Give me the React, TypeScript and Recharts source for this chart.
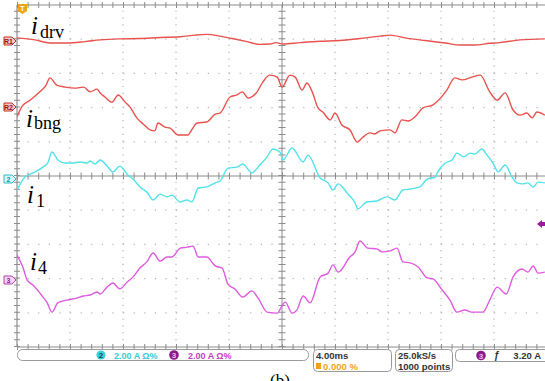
import React from 'react';
import { LineChart, Line, XAxis, YAxis, ReferenceLine } from 'recharts';

// time in divisions (0..10), value in divisions (-5..5)
const iDrv = [
  { t: 0, v: 4.04 }, { t: 0.34, v: 3.98 }, { t: 0.62, v: 3.89 }, { t: 0.94, v: 3.89 },
  { t: 1.28, v: 3.93 }, { t: 1.57, v: 3.98 }, { t: 1.94, v: 4.01 }, { t: 2.32, v: 4.02 },
  { t: 2.7, v: 4.05 }, { t: 3.08, v: 4.07 }, { t: 3.36, v: 4.12 }, { t: 3.58, v: 4.14 },
  { t: 3.83, v: 4.09 }, { t: 4.06, v: 4.02 }, { t: 4.34, v: 3.93 }, { t: 4.58, v: 3.85 },
  { t: 4.77, v: 3.86 }, { t: 4.89, v: 3.9 }, { t: 5.02, v: 3.86 }, { t: 5.34, v: 3.9 },
  { t: 5.72, v: 3.94 }, { t: 6.09, v: 3.96 }, { t: 6.47, v: 4.02 }, { t: 6.85, v: 4.09 },
  { t: 7.04, v: 4.12 }, { t: 7.32, v: 4.04 }, { t: 7.7, v: 3.96 }, { t: 8.08, v: 3.89 },
  { t: 8.36, v: 3.83 }, { t: 8.64, v: 3.83 }, { t: 8.92, v: 3.88 }, { t: 9.11, v: 3.9 },
  { t: 9.49, v: 3.98 }, { t: 9.96, v: 4.01 },
];

const iBng = [
  { t: 0, v: 1.73 }, { t: 0.09, v: 2.02 }, { t: 0.25, v: 2.22 }, { t: 0.43, v: 2.46 },
  { t: 0.55, v: 2.66 }, { t: 0.62, v: 2.87 }, { t: 0.75, v: 2.66 }, { t: 0.91, v: 2.6 },
  { t: 1.09, v: 2.57 }, { t: 1.26, v: 2.6 }, { t: 1.38, v: 2.46 }, { t: 1.51, v: 2.54 },
  { t: 1.57, v: 2.43 }, { t: 1.66, v: 2.31 }, { t: 1.79, v: 2.16 }, { t: 1.91, v: 2.37 },
  { t: 2.04, v: 2.16 }, { t: 2.13, v: 2.02 }, { t: 2.26, v: 1.7 }, { t: 2.38, v: 1.52 },
  { t: 2.51, v: 1.35 }, { t: 2.6, v: 1.32 }, { t: 2.66, v: 1.55 }, { t: 2.79, v: 1.43 },
  { t: 2.89, v: 1.4 }, { t: 3.04, v: 1.2 }, { t: 3.23, v: 1.2 }, { t: 3.26, v: 1.26 },
  { t: 3.4, v: 1.55 }, { t: 3.58, v: 1.58 }, { t: 3.74, v: 1.81 }, { t: 3.83, v: 1.84 },
  { t: 4.02, v: 2.31 }, { t: 4.15, v: 2.37 }, { t: 4.25, v: 2.46 }, { t: 4.36, v: 2.28 },
  { t: 4.53, v: 2.46 }, { t: 4.64, v: 2.75 }, { t: 4.77, v: 2.95 }, { t: 4.91, v: 2.89 },
  { t: 5.0, v: 2.6 }, { t: 5.15, v: 2.95 }, { t: 5.25, v: 2.89 }, { t: 5.38, v: 2.51 },
  { t: 5.47, v: 2.72 }, { t: 5.57, v: 2.46 }, { t: 5.68, v: 1.99 }, { t: 5.77, v: 1.87 },
  { t: 5.91, v: 1.64 }, { t: 6.0, v: 1.84 }, { t: 6.13, v: 1.49 }, { t: 6.28, v: 1.35 },
  { t: 6.42, v: 0.99 }, { t: 6.51, v: 1.11 }, { t: 6.66, v: 1.26 }, { t: 6.75, v: 1.23 },
  { t: 6.85, v: 1.32 }, { t: 7.04, v: 1.35 }, { t: 7.13, v: 1.26 }, { t: 7.26, v: 1.64 },
  { t: 7.38, v: 1.61 }, { t: 7.51, v: 1.73 }, { t: 7.66, v: 1.99 }, { t: 7.85, v: 2.08 },
  { t: 8.11, v: 2.51 }, { t: 8.26, v: 2.87 }, { t: 8.4, v: 2.81 }, { t: 8.58, v: 2.89 },
  { t: 8.74, v: 2.95 }, { t: 8.92, v: 2.46 }, { t: 9.06, v: 2.22 }, { t: 9.21, v: 2.43 },
  { t: 9.36, v: 1.93 }, { t: 9.49, v: 1.78 }, { t: 9.62, v: 1.84 }, { t: 9.72, v: 1.7 },
  { t: 9.81, v: 1.87 }, { t: 9.96, v: 1.78 },
];

const i1 = [
  { t: 0, v: -0.41 }, { t: 0.15, v: -0.03 }, { t: 0.3, v: 0.09 }, { t: 0.49, v: 0.26 },
  { t: 0.58, v: 0.38 }, { t: 0.66, v: 0.7 }, { t: 0.77, v: 0.47 }, { t: 0.91, v: 0.38 },
  { t: 1.04, v: 0.38 }, { t: 1.19, v: 0.41 }, { t: 1.32, v: 0.38 }, { t: 1.38, v: 0.44 },
  { t: 1.47, v: 0.35 }, { t: 1.57, v: 0.47 }, { t: 1.7, v: 0.29 }, { t: 1.81, v: 0.12 },
  { t: 1.94, v: 0.29 }, { t: 2.09, v: 0.03 }, { t: 2.19, v: -0.09 }, { t: 2.32, v: -0.32 },
  { t: 2.45, v: -0.47 }, { t: 2.57, v: -0.7 }, { t: 2.7, v: -0.53 }, { t: 2.83, v: -0.61 },
  { t: 2.92, v: -0.56 }, { t: 3.08, v: -0.76 }, { t: 3.21, v: -0.7 }, { t: 3.3, v: -0.76 },
  { t: 3.42, v: -0.35 }, { t: 3.58, v: -0.32 }, { t: 3.74, v: -0.2 }, { t: 3.83, v: -0.15 },
  { t: 3.98, v: 0.23 }, { t: 4.15, v: 0.26 }, { t: 4.26, v: 0.35 }, { t: 4.43, v: 0.09 },
  { t: 4.58, v: 0.32 }, { t: 4.72, v: 0.56 }, { t: 4.83, v: 0.79 }, { t: 4.96, v: 0.7 },
  { t: 5.02, v: 0.47 }, { t: 5.19, v: 0.82 }, { t: 5.4, v: 0.41 }, { t: 5.49, v: 0.61 },
  { t: 5.72, v: -0.06 }, { t: 5.87, v: -0.2 }, { t: 5.96, v: -0.41 }, { t: 6.06, v: -0.23 },
  { t: 6.23, v: -0.5 }, { t: 6.38, v: -0.79 }, { t: 6.43, v: -0.96 }, { t: 6.6, v: -0.76 },
  { t: 6.79, v: -0.73 }, { t: 6.98, v: -0.61 }, { t: 7.13, v: -0.7 }, { t: 7.28, v: -0.41 },
  { t: 7.42, v: -0.38 }, { t: 7.6, v: -0.32 }, { t: 7.74, v: -0.09 }, { t: 7.89, v: -0.03 },
  { t: 7.94, v: 0.12 }, { t: 8.08, v: 0.38 }, { t: 8.21, v: 0.47 }, { t: 8.3, v: 0.67 },
  { t: 8.43, v: 0.56 }, { t: 8.55, v: 0.67 }, { t: 8.64, v: 0.64 }, { t: 8.77, v: 0.79 },
  { t: 8.87, v: 0.61 }, { t: 8.98, v: 0.38 }, { t: 9.08, v: 0.12 }, { t: 9.21, v: 0.32 },
  { t: 9.34, v: -0.03 }, { t: 9.43, v: -0.2 }, { t: 9.55, v: -0.23 }, { t: 9.64, v: -0.2 },
  { t: 9.74, v: -0.32 }, { t: 9.83, v: -0.18 }, { t: 9.96, v: -0.2 },
];

const i4 = [
  { t: 0, v: -2.31 }, { t: 0.11, v: -2.66 }, { t: 0.19, v: -3.04 }, { t: 0.3, v: -3.19 },
  { t: 0.49, v: -3.54 }, { t: 0.57, v: -3.71 }, { t: 0.66, v: -3.98 }, { t: 0.77, v: -3.71 },
  { t: 0.94, v: -3.63 }, { t: 1.13, v: -3.57 }, { t: 1.25, v: -3.51 }, { t: 1.38, v: -3.48 },
  { t: 1.51, v: -3.39 }, { t: 1.57, v: -3.45 }, { t: 1.7, v: -3.25 }, { t: 1.81, v: -3.13 },
  { t: 1.94, v: -3.3 }, { t: 2.08, v: -3.1 }, { t: 2.19, v: -2.95 }, { t: 2.32, v: -2.69 },
  { t: 2.45, v: -2.51 }, { t: 2.57, v: -2.25 }, { t: 2.7, v: -2.49 }, { t: 2.83, v: -2.37 },
  { t: 2.92, v: -2.37 }, { t: 3.08, v: -2.11 }, { t: 3.21, v: -2.08 }, { t: 3.32, v: -2.05 },
  { t: 3.42, v: -2.37 }, { t: 3.58, v: -2.37 }, { t: 3.74, v: -2.63 }, { t: 3.87, v: -2.69 },
  { t: 3.98, v: -3.16 }, { t: 4.11, v: -3.3 }, { t: 4.26, v: -3.54 }, { t: 4.43, v: -3.36 },
  { t: 4.55, v: -3.57 }, { t: 4.72, v: -3.98 }, { t: 4.91, v: -4.01 }, { t: 5.0, v: -3.8 },
  { t: 5.06, v: -3.68 }, { t: 5.19, v: -4.01 }, { t: 5.28, v: -3.92 }, { t: 5.4, v: -3.51 },
  { t: 5.53, v: -3.71 }, { t: 5.72, v: -2.95 }, { t: 5.87, v: -2.84 }, { t: 5.96, v: -2.6 },
  { t: 6.06, v: -2.81 }, { t: 6.28, v: -2.37 }, { t: 6.38, v: -2.22 }, { t: 6.47, v: -1.9 },
  { t: 6.62, v: -2.11 }, { t: 6.79, v: -2.13 }, { t: 6.89, v: -2.22 }, { t: 7.04, v: -2.19 },
  { t: 7.17, v: -2.11 }, { t: 7.28, v: -2.51 }, { t: 7.42, v: -2.54 }, { t: 7.57, v: -2.66 },
  { t: 7.74, v: -2.98 }, { t: 7.85, v: -3.01 }, { t: 8.02, v: -3.33 }, { t: 8.17, v: -3.63 },
  { t: 8.3, v: -3.98 }, { t: 8.45, v: -3.92 }, { t: 8.58, v: -3.98 }, { t: 8.7, v: -3.98 },
  { t: 8.79, v: -3.98 }, { t: 8.92, v: -3.63 }, { t: 9.06, v: -3.25 }, { t: 9.23, v: -3.45 },
  { t: 9.36, v: -2.95 }, { t: 9.53, v: -2.72 }, { t: 9.64, v: -2.81 }, { t: 9.74, v: -2.63 },
  { t: 9.83, v: -2.84 }, { t: 9.96, v: -2.81 },
];

const xGrid = [1, 2, 3, 4, 6, 7, 8, 9];
const yGrid = [-4, -3, -2, -1, 1, 2, 3, 4];

const RED = '#e8524e';
const CYAN = '#52e2ea';
const MAGENTA = '#de5ade';
const GRID = '#b4b4b4';
const AXIS = '#8c8c8c';

const serif = '"Liberation Serif", "Times New Roman", serif';
const sans = '"Liberation Sans", Arial, sans-serif';

function Flag({ y, color, fill, label, textColor }: { y: number; color: string; fill: string; label: string; textColor: string }) {
  return (
    <g>
      <polygon points={`4,${y - 4} 12,${y - 4} 16,${y} 12,${y + 4} 4,${y + 4}`} fill={fill} stroke={color} strokeWidth={1} />
      <text x={8.5} y={y + 2.6} fontSize={7} fontFamily={sans} fontWeight="bold" fill={textColor} textAnchor="middle">{label}</text>
    </g>
  );
}

export default function App() {
  return (
    <div style={{ position: 'absolute', left: 0, top: 0, width: 545, height: 381, overflow: 'hidden', background: '#fff' }}>
      <LineChart width={560} height={381} margin={{ top: 5, left: 17, right: 13, bottom: 34 }}>
        <XAxis type="number" dataKey="t" domain={[0, 10]} hide allowDataOverflow />
        <YAxis type="number" dataKey="v" domain={[-5, 5]} hide allowDataOverflow />
        {xGrid.map((x) => (
          <ReferenceLine key={'vx' + x} x={x} stroke={GRID} strokeWidth={1.2} strokeDasharray="1.2 5.64" />
        ))}
        {yGrid.map((y) => (
          <ReferenceLine key={'hy' + y} y={y} stroke={GRID} strokeWidth={1.2} strokeDasharray="1.2 9.4" />
        ))}
        <ReferenceLine x={5} stroke={AXIS} strokeWidth={1} />
        <ReferenceLine x={5} stroke={AXIS} strokeWidth={7} strokeDasharray="1 5.84" />
        <ReferenceLine y={0} stroke={AXIS} strokeWidth={1} />
        <ReferenceLine y={0} stroke={AXIS} strokeWidth={7} strokeDasharray="1 9.6" />
        <ReferenceLine x={0} stroke={AXIS} strokeWidth={1.2} />
        <ReferenceLine x={0} stroke={AXIS} strokeWidth={6} strokeDasharray="1 5.84" />
        <ReferenceLine y={5} stroke={AXIS} strokeWidth={1.2} />
        <ReferenceLine y={5} stroke={AXIS} strokeWidth={6} strokeDasharray="1 9.6" />
        <ReferenceLine y={-5} stroke={AXIS} strokeWidth={1.2} />
        <ReferenceLine y={-5} stroke={AXIS} strokeWidth={6} strokeDasharray="1 9.6" />
        <Line data={iDrv} dataKey="v" type="monotone" stroke={RED} strokeWidth={1.4} dot={false} isAnimationActive={false} />
        <Line data={iBng} dataKey="v" type="monotone" stroke={RED} strokeWidth={1.4} dot={false} isAnimationActive={false} />
        <Line data={i1} dataKey="v" type="monotone" stroke={CYAN} strokeWidth={1.4} dot={false} isAnimationActive={false} />
        <Line data={i4} dataKey="v" type="monotone" stroke={MAGENTA} strokeWidth={1.4} dot={false} isAnimationActive={false} />
      </LineChart>

      <svg width={545} height={381} style={{ position: 'absolute', left: 0, top: 0, pointerEvents: 'none' }}>
        {/* trigger position marker */}
        <polygon points="18,4 27,4 27,11 22.5,14 18,11" fill="#f2a21e" />
        <text x={22.5} y={11} fontSize={7} fontFamily={sans} fontWeight="bold" fill="#fff" textAnchor="middle">T</text>

        <Flag y={41} color="#c0302c" fill="#f4c8c4" label="R1" textColor="#a01010" />
        <Flag y={107} color="#c0302c" fill="#f4c8c4" label="R2" textColor="#a01010" />
        <Flag y={179} color="#30b8c4" fill="#d8f8fa" label="2" textColor="#1890a0" />
        <Flag y={280} color="#b040b0" fill="#f6d8f6" label="3" textColor="#902090" />

        {/* trigger level marker */}
        <polygon points="537,224 542,220 542,228" fill="#9a1a9a" />
        <rect x={542} y={222} width={3} height={4} fill="#9a1a9a" />

        {/* trace labels */}
        <text x={31} y={34} fontFamily={serif} fontStyle="italic" fontSize={25} fill="#000">i</text>
        <text x={40} y={38} fontFamily={serif} fontSize={18} fill="#000">drv</text>
        <text x={26} y={127} fontFamily={serif} fontStyle="italic" fontSize={25} fill="#000">i</text>
        <text x={34} y={129} fontFamily={serif} fontSize={18} fill="#000">bng</text>
        <text x={27} y={203} fontFamily={serif} fontStyle="italic" fontSize={25} fill="#000">i</text>
        <text x={36} y={207} fontFamily={serif} fontSize={18} fill="#000">1</text>
        <text x={30} y={270} fontFamily={serif} fontStyle="italic" fontSize={25} fill="#000">i</text>
        <text x={38} y={274} fontFamily={serif} fontSize={18} fill="#000">4</text>

        {/* status bar */}
        <rect x={17.5} y={349.5} width={291} height={11} rx={5} fill="#fff" stroke="#9a9a9a" />
        <circle cx={101} cy={355} r={4.6} fill="#3cd0dc" />
        <text x={101} y={358} fontSize={8} fontFamily={sans} fontWeight="bold" fill="#104850" textAnchor="middle">2</text>
        <text x={114} y={358.5} fontSize={9} fontFamily={sans} fontWeight="bold" fill="#3cc8d2">2.00 A  Ω%</text>
        <circle cx={174} cy={355} r={4.8} fill="#8a1a8a" />
        <text x={174} y={358} fontSize={8} fontFamily={sans} fontWeight="bold" fill="#f0c0f0" textAnchor="middle">3</text>
        <text x={188} y={358.5} fontSize={9} fontFamily={sans} fontWeight="bold" fill="#c040c0">2.00 A  Ω%</text>

        <rect x={313.5} y={349.5} width={78} height={22} rx={4} fill="#fff" stroke="#9a9a9a" />
        <text x={316} y={358.5} fontSize={9.5} fontFamily={sans} fontWeight="bold" fill="#333">4.00ms</text>
        <rect x={316} y={363} width={5} height={6} fill="#f2a21e" />
        <text x={323} y={369.5} fontSize={9.5} fontFamily={sans} fontWeight="bold" fill="#f2a21e">0.000 %</text>

        <rect x={395.5} y={349.5} width={57} height={22} rx={4} fill="#fff" stroke="#9a9a9a" />
        <text x={398} y={358.5} fontSize={9.5} fontFamily={sans} fontWeight="bold" fill="#333">25.0kS/s</text>
        <text x={398} y={369.5} fontSize={9.5} fontFamily={sans} fontWeight="bold" fill="#333">1000 points</text>

        <rect x={455.5} y={349.5} width={100} height={12} rx={4} fill="#fff" stroke="#9a9a9a" />
        <circle cx={481} cy={355.5} r={4.8} fill="#8a1a8a" />
        <text x={481} y={358.5} fontSize={8} fontFamily={sans} fontWeight="bold" fill="#f0c0f0" textAnchor="middle">3</text>
        <text x={494} y={359} fontSize={10} fontFamily={sans} fontWeight="bold" fill="#333">ƒ</text>
        <text x={541} y={359} fontSize={9.5} fontFamily={sans} fontWeight="bold" fill="#333" textAnchor="end">3.20 A</text>

        <text x={270} y={386} fontSize={17} fontFamily={serif} fill="#000">(b)</text>
      </svg>
    </div>
  );
}
